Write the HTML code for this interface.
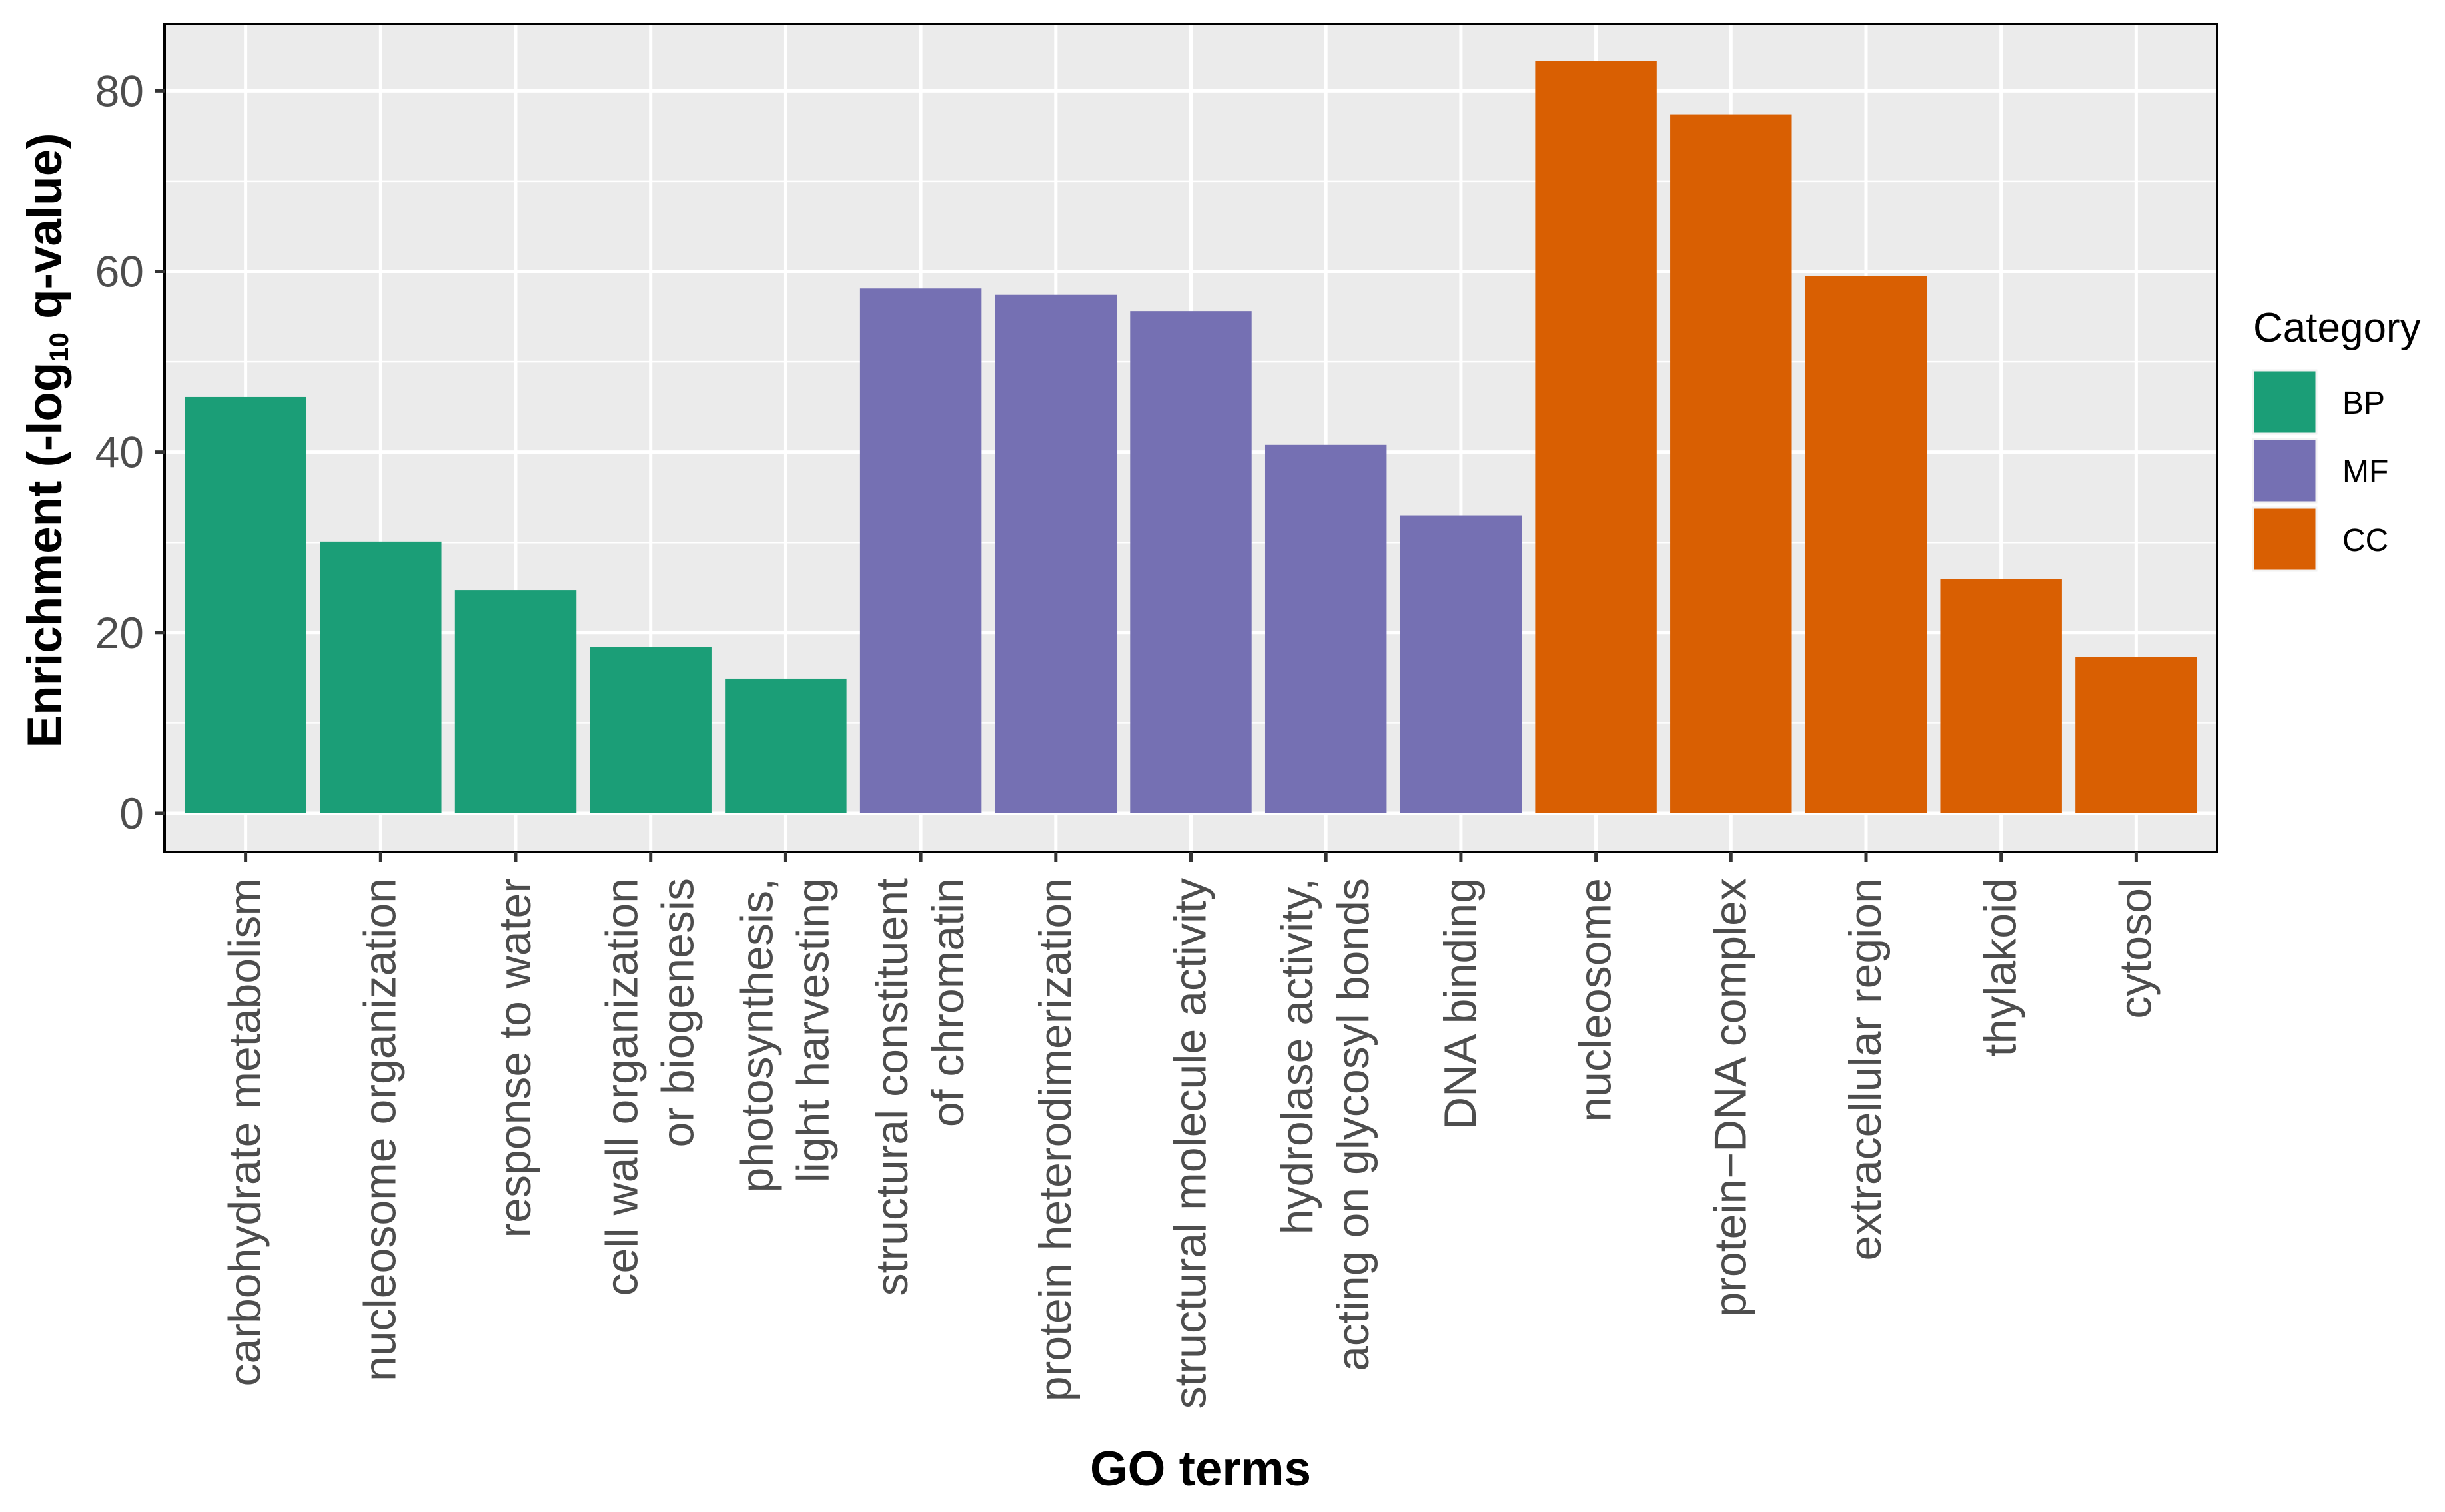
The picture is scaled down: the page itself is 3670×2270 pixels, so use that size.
<!DOCTYPE html>
<html><head><meta charset="utf-8"><style>
html,body{margin:0;padding:0;background:#fff;}
svg{display:block;font-family:"Liberation Sans",Arial,sans-serif;}
</style></head><body>
<svg id="chart" width="3670" height="2270" viewBox="0 0 3670 2270" xmlns="http://www.w3.org/2000/svg">
<rect x="0" y="0" width="3670" height="2270" fill="#fff"/>
<g id="panel"></g>
<g id="axes"></g>
<g id="legend"></g>
</svg>
<script>
const categories = ["carbohydrate metabolism","nucleosome organization","response to water","cell wall organization\nor biogenesis","photosynthesis,\nlight harvesting","structural constituent\nof chromatin","protein heterodimerization","structural molecule activity","hydrolase activity,\nacting on glycosyl bonds","DNA binding","nucleosome","protein\u2212DNA complex","extracellular region","thylakoid","cytosol"];
const values = [46.1, 30.1, 24.7, 18.4, 14.9, 58.1, 57.4, 55.6, 40.8, 33.0, 83.3, 77.4, 59.5, 25.9, 17.3];
const groups = ["BP","BP","BP","BP","BP","MF","MF","MF","MF","MF","CC","CC","CC","CC","CC"];
const legendLabels = ["BP","MF","CC"];
const legendColors = ["#1B9E77","#7570B3","#D95F02"];
const yTicks = [0,20,40,60,80];
const yMinor = [10,30,50,70];

const NS="http://www.w3.org/2000/svg";
const L=247,R=3328,T=36,B=1279;
const yMin=-4.28,yMax=87.4;
const yS=v=>B-(v-yMin)/(yMax-yMin)*(B-T);
const bw=(R-L)/(categories.length+0.2);
const xS=i=>L+(i+0.6)*bw;
function mk(tag,attrs,parent){const e=document.createElementNS(NS,tag);for(const k in attrs)e.setAttribute(k,attrs[k]);parent.appendChild(e);return e;}
const panel=document.getElementById('panel'),axes=document.getElementById('axes'),legend=document.getElementById('legend');
const bg=mk('rect',{x:L,y:T,width:R-L,height:B-T,fill:'#EBEBEB'},panel);


yMinor.forEach(v=>{const l=mk('line',{x1:L,x2:R,y1:yS(v),y2:yS(v),stroke:'#fff','stroke-width':2.5},panel);

});
yTicks.forEach(v=>{const l=mk('line',{x1:L,x2:R,y1:yS(v),y2:yS(v),stroke:'#fff','stroke-width':5},panel);

});
categories.forEach((c,i)=>{const l=mk('line',{x1:xS(i),x2:xS(i),y1:T,y2:B,stroke:'#fff','stroke-width':5},panel);

});
values.forEach((v,i)=>{const col=legendColors[legendLabels.indexOf(groups[i])];
const r=mk('rect',{x:xS(i)-bw*0.45,y:yS(v),width:bw*0.9,height:yS(0)-yS(v),fill:col},panel);

});
const border=mk('rect',{x:L,y:T,width:R-L,height:B-T,fill:'none',stroke:'#000','stroke-width':4},axes);


yTicks.forEach(v=>{const y=yS(v);
const t=mk('line',{x1:L-15,x2:L,y1:y,y2:y,stroke:'#333','stroke-width':5},axes);


const tx=mk('text',{x:216,y:y+23,'text-anchor':'end','font-size':66,fill:'#4D4D4D'},axes);tx.textContent=v;

});
categories.forEach((c,i)=>{const x=xS(i);
const t=mk('line',{x1:x,x2:x,y1:B,y2:B+15,stroke:'#333','stroke-width':5},axes);


const lines=c.split('\n');const n=lines.length;
lines.forEach((ln,j)=>{const bx=x+22+(j-(n-1)/2)*84;
const tx=mk('text',{x:0,y:0,transform:`translate(${bx},1318) rotate(-90)`,'text-anchor':'end','font-size':68,fill:'#4D4D4D'},axes);tx.textContent=ln;

});});
const xt=mk('text',{x:1802,y:2230,'text-anchor':'middle','font-size':73,'font-weight':'bold',fill:'#000',textLength:332,lengthAdjust:'spacingAndGlyphs'},axes);xt.textContent='GO terms';


const yt=mk('text',{x:0,y:0,transform:'translate(92,661) rotate(-90)','text-anchor':'middle','font-size':73,'font-weight':'bold',fill:'#000',textLength:923,lengthAdjust:'spacingAndGlyphs'},axes);


mk('tspan',{},yt).textContent='Enrichment (-log';
mk('tspan',{'font-size':40,dy:10},yt).textContent='10';
mk('tspan',{dy:-10},yt).textContent=' q-value)';
const lt=mk('text',{x:3382,y:513,'font-size':62,fill:'#000'},legend);lt.textContent='Category';


legendLabels.forEach((lab,k)=>{const y=556+k*103;
const r=mk('rect',{x:3382,y:y,width:95,height:95,fill:legendColors[k],stroke:'#F2F2F2','stroke-width':3},legend);


const tx=mk('text',{x:3516,y:y+65,'font-size':48,fill:'#000'},legend);tx.textContent=lab;

});
</script>
</body></html>
